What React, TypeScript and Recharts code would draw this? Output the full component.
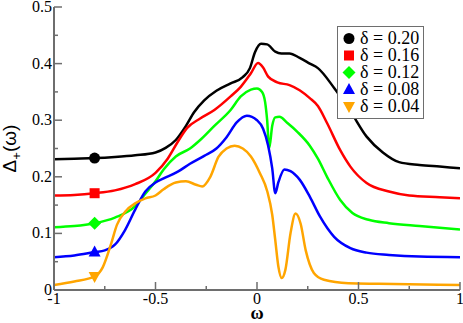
import { LineChart, Line, XAxis, YAxis, Legend } from 'recharts';

// omega, Delta_+(omega)
const d20: [number, number][] = [
  [-1, 0.231], [-0.9, 0.232], [-0.8, 0.233], [-0.7, 0.235], [-0.6, 0.238], [-0.5, 0.243],
  [-0.45, 0.251], [-0.4, 0.265], [-0.35, 0.29], [-0.31, 0.314], [-0.26, 0.335], [-0.2, 0.352],
  [-0.13, 0.365], [-0.07, 0.376], [-0.035, 0.392], [-0.01, 0.42], [0.02, 0.435], [0.05, 0.434],
  [0.09, 0.421], [0.12, 0.418], [0.16, 0.418], [0.21, 0.41], [0.26, 0.4], [0.3, 0.392],
  [0.38, 0.357], [0.46, 0.316], [0.54, 0.271], [0.62, 0.243], [0.7, 0.226], [0.8, 0.221],
  [0.9, 0.218], [1, 0.215],
];
const d16: [number, number][] = [
  [-1, 0.167], [-0.9, 0.168], [-0.8, 0.171], [-0.7, 0.176], [-0.6, 0.187], [-0.5, 0.207],
  [-0.44, 0.232], [-0.39, 0.262], [-0.345, 0.286], [-0.28, 0.303], [-0.21, 0.318], [-0.13, 0.342],
  [-0.08, 0.359], [-0.03, 0.383], [0.005, 0.401], [0.03, 0.393], [0.055, 0.377], [0.1, 0.367],
  [0.16, 0.362], [0.21, 0.353], [0.26, 0.339], [0.3, 0.325], [0.345, 0.295], [0.41, 0.247],
  [0.46, 0.218], [0.54, 0.189], [0.65, 0.174], [0.75, 0.167], [0.9, 0.164], [1, 0.162],
];
const d12: [number, number][] = [
  [-1, 0.111], [-0.9, 0.113], [-0.8, 0.118], [-0.7, 0.128], [-0.6, 0.148], [-0.55, 0.17],
  [-0.5, 0.192], [-0.46, 0.213], [-0.4, 0.236], [-0.33, 0.25], [-0.28, 0.265], [-0.21, 0.29],
  [-0.13, 0.318], [-0.08, 0.342], [-0.03, 0.354], [0, 0.356], [0.025, 0.35], [0.04, 0.332],
  [0.05, 0.3], [0.06, 0.25], [0.075, 0.29], [0.09, 0.305], [0.11, 0.306], [0.15, 0.295],
  [0.2, 0.279], [0.26, 0.255], [0.3, 0.232], [0.345, 0.2], [0.41, 0.159], [0.47, 0.136],
  [0.55, 0.124], [0.65, 0.118], [0.8, 0.113], [1, 0.107],
];
const d08: [number, number][] = [
  [-1, 0.058], [-0.9, 0.061], [-0.8, 0.067], [-0.75, 0.07], [-0.7, 0.08], [-0.65, 0.106],
  [-0.6, 0.142], [-0.55, 0.174], [-0.5, 0.19], [-0.46, 0.197], [-0.39, 0.209], [-0.33, 0.223],
  [-0.26, 0.237], [-0.2, 0.25], [-0.15, 0.27], [-0.1, 0.296], [-0.05, 0.308], [0, 0.3],
  [0.03, 0.285], [0.055, 0.255], [0.075, 0.215], [0.09, 0.171], [0.105, 0.19], [0.135, 0.213],
  [0.165, 0.21], [0.21, 0.195], [0.26, 0.165], [0.31, 0.13], [0.38, 0.094], [0.46, 0.074],
  [0.54, 0.066], [0.65, 0.062], [0.8, 0.059], [1, 0.058],
];
const d04: [number, number][] = [
  [-1, 0.009], [-0.9, 0.015], [-0.8, 0.024], [-0.76, 0.04], [-0.72, 0.08], [-0.69, 0.115],
  [-0.645, 0.14], [-0.6, 0.153], [-0.55, 0.162], [-0.5, 0.167], [-0.46, 0.178], [-0.4, 0.19],
  [-0.35, 0.192], [-0.3, 0.186], [-0.27, 0.183], [-0.23, 0.2], [-0.19, 0.235], [-0.15, 0.25],
  [-0.11, 0.255], [-0.07, 0.25], [-0.03, 0.236], [0.015, 0.206], [0.05, 0.175], [0.075, 0.133],
  [0.09, 0.088], [0.105, 0.042], [0.122, 0.021], [0.14, 0.036], [0.165, 0.1], [0.19, 0.135],
  [0.215, 0.117], [0.24, 0.07], [0.26, 0.045], [0.28, 0.03], [0.33, 0.018], [0.45, 0.012],
  [0.6, 0.011], [1, 0.009],
];

const seriesData = [d20, d16, d12, d08, d04];
const seriesNames = ['δ = 0.20', 'δ = 0.16', 'δ = 0.12', 'δ = 0.08', 'δ = 0.04'];
const seriesColors = ['#000000', '#ff0000', '#00ff00', '#0000ff', '#ffa500'];
const seriesShapes = ['circle', 'square', 'diamond', 'triangle', 'triangleDown'];
const markerAt = -0.8;

const xTicks = [-1, -0.75, -0.5, -0.25, 0, 0.25, 0.5, 0.75, 1];
const yTicks = [0, 0.05, 0.1, 0.15, 0.2, 0.25, 0.3, 0.35, 0.4, 0.45, 0.5];

const FRAME = '#6e6e6e';
const SERIF = '"Liberation Serif", "Times New Roman", serif';
const SANS = '"Liberation Sans", Arial, sans-serif';

const isMajor = (v: number, step: number) => Math.abs(v / step - Math.round(v / step)) < 1e-6;
const fmt = (v: number) => (Math.abs(v) < 1e-9 ? '0' : String(+v.toFixed(2)));

function marker(shape: string, cx: number, cy: number, color: string, key?: any) {
  switch (shape) {
    case 'circle':
      return <circle key={key} cx={cx} cy={cy} r={5.5} fill={color} />;
    case 'square':
      return <rect key={key} x={cx - 5} y={cy - 5} width={10} height={10} fill={color} />;
    case 'diamond':
      return <polygon key={key} points={`${cx},${cy - 6.5} ${cx + 6.5},${cy} ${cx},${cy + 6.5} ${cx - 6.5},${cy}`} fill={color} />;
    case 'triangle':
      return <polygon key={key} points={`${cx},${cy - 6.5} ${cx + 6},${cy + 4.5} ${cx - 6},${cy + 4.5}`} fill={color} />;
    default:
      return <polygon key={key} points={`${cx},${cy + 6.5} ${cx + 6},${cy - 4.5} ${cx - 6},${cy - 4.5}`} fill={color} />;
  }
}

const BottomTick = (p: any) => {
  const v = p.payload.value;
  const major = isMajor(v, 0.5);
  return (
    <g>
      <line x1={p.x} y1={p.y} x2={p.x} y2={p.y - (major ? 8 : 4)} stroke={FRAME} strokeWidth={1.5} />
      {major && (
        <text x={p.x} y={p.y + 14} textAnchor="middle" style={{ fontFamily: SERIF }} fontSize={16} fill="#000">
          {fmt(v)}
        </text>
      )}
    </g>
  );
};

const TopTick = (p: any) => {
  const major = isMajor(p.payload.value, 0.5);
  return <line x1={p.x} y1={p.y} x2={p.x} y2={p.y + (major ? 8 : 4)} stroke={FRAME} strokeWidth={1.5} />;
};

const LeftTick = (p: any) => {
  const v = p.payload.value;
  const major = isMajor(v, 0.1);
  return (
    <g>
      <line x1={p.x} y1={p.y} x2={p.x + (major ? 8 : 4)} y2={p.y} stroke={FRAME} strokeWidth={1.5} />
      {major && (
        <text x={p.x - 2} y={p.y + 5} textAnchor="end" style={{ fontFamily: SERIF }} fontSize={16} fill="#000">
          {fmt(v)}
        </text>
      )}
    </g>
  );
};

const RightTick = (p: any) => {
  const major = isMajor(p.payload.value, 0.1);
  return <line x1={p.x} y1={p.y} x2={p.x - (major ? 8 : 4)} y2={p.y} stroke={FRAME} strokeWidth={1.5} />;
};

const YLabel = (p: any) => {
  const vb = p.viewBox;
  const cx = 16;
  const cy = vb.y + vb.height / 2;
  return (
    <text x={cx} y={cy} transform={`rotate(-90, ${cx}, ${cy})`} textAnchor="middle" style={{ fontFamily: SANS }} fontSize={19} fill="#000">
      Δ<tspan dy={5} fontSize={13}>+</tspan>
      <tspan dy={-5}>(ω)</tspan>
    </text>
  );
};

const XLabel = (p: any) => {
  const vb = p.viewBox;
  return (
    <text x={vb.x + vb.width / 2} y={vb.y + 29} textAnchor="middle" style={{ fontFamily: SERIF }} fontWeight="bold" fontSize={18} fill="#000">
      ω
    </text>
  );
};

const LegendBox = () => (
  <div
    style={{
      border: `1px solid ${FRAME}`,
      background: '#fff',
      padding: '3px 4px 3px 4px',
      fontFamily: SERIF,
      fontSize: 18,
      lineHeight: '17px',
      color: '#000',
    }}
  >
    {seriesNames.map((name, i) => (
      <div key={name} style={{ display: 'flex', alignItems: 'center', whiteSpace: 'nowrap' }}>
        <svg width={15} height={17} style={{ marginRight: 3 }}>
          {marker(seriesShapes[i], 7, 8.5, seriesColors[i])}
        </svg>
        <span>{name}</span>
      </div>
    ))}
  </div>
);

export default function App() {
  return (
    <div style={{ position: 'absolute', left: 0, top: 0 }}>
      <LineChart width={463} height={323} margin={{ top: 7, right: 3, bottom: 0, left: 0 }}>
        <XAxis
          dataKey="w"
          type="number"
          domain={[-1, 1]}
          ticks={xTicks}
          interval={0}
          height={33}
          tickSize={0}
          tickMargin={0}
          tickLine={false}
          tick={BottomTick}
          axisLine={{ stroke: FRAME, strokeWidth: 2 }}
          label={{ content: XLabel }}
          allowDataOverflow
        />
        <XAxis
          xAxisId="top"
          orientation="top"
          dataKey="w"
          type="number"
          domain={[-1, 1]}
          ticks={xTicks}
          interval={0}
          height={0}
          tickSize={0}
          tickMargin={0}
          tickLine={false}
          tick={TopTick}
          axisLine={{ stroke: FRAME, strokeWidth: 2 }}
        />
        <YAxis
          type="number"
          domain={[0, 0.5]}
          ticks={yTicks}
          interval={0}
          width={54}
          tickSize={0}
          tickMargin={0}
          tickLine={false}
          tick={LeftTick}
          axisLine={{ stroke: FRAME, strokeWidth: 2 }}
          label={{ content: YLabel }}
          allowDataOverflow
        />
        <YAxis
          yAxisId="right"
          orientation="right"
          type="number"
          domain={[0, 0.5]}
          ticks={yTicks}
          interval={0}
          width={0}
          tickSize={0}
          tickMargin={0}
          tickLine={false}
          tick={RightTick}
          axisLine={{ stroke: FRAME, strokeWidth: 2 }}
        />
        {seriesData.map((pts, i) => (
          <Line
            key={seriesNames[i]}
            name={seriesNames[i]}
            data={pts.map(([w, v]) => ({ w, v }))}
            dataKey="v"
            type="monotone"
            stroke={seriesColors[i]}
            strokeWidth={2.5}
            isAnimationActive={false}
            dot={(p: any) =>
              p.payload.w === markerAt ? marker(seriesShapes[i], p.cx, p.cy, seriesColors[i], p.index) : <g key={p.index} />
            }
            activeDot={false}
          />
        ))}
        <Legend
          layout="vertical"
          align="center"
          verticalAlign="middle"
          content={LegendBox}
          wrapperStyle={{ position: 'absolute', left: 337, top: 26, width: 'auto', height: 'auto' }}
        />
      </LineChart>
    </div>
  );
}
